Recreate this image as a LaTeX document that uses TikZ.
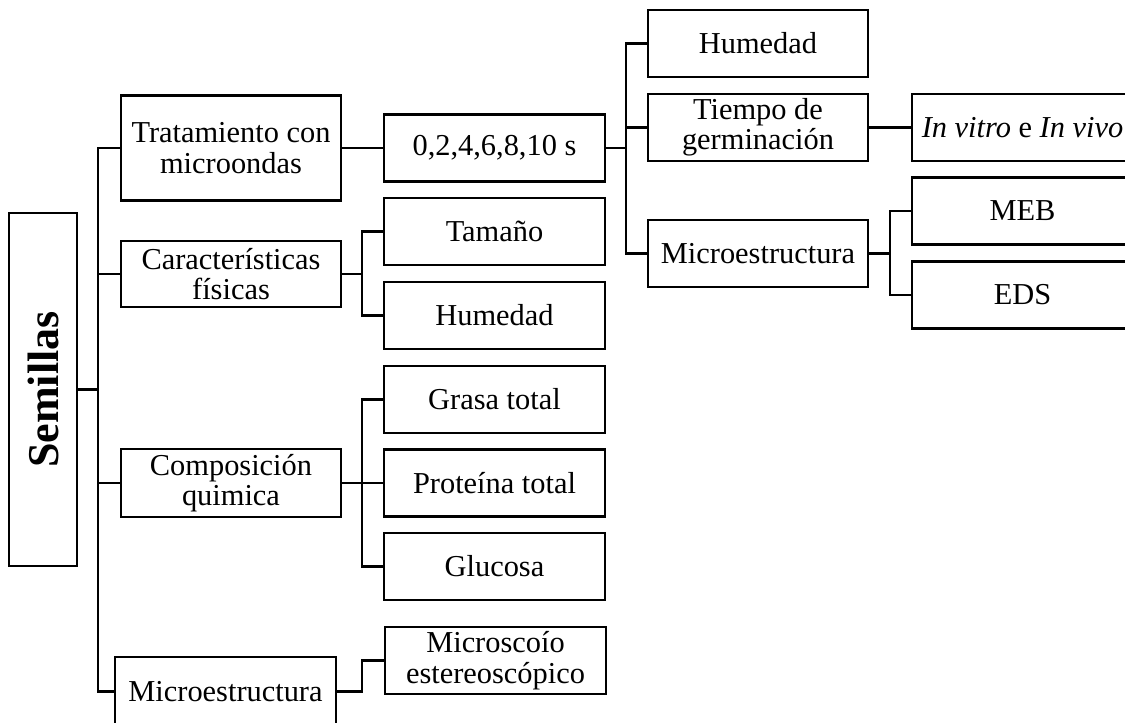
\documentclass[tikz,border=0pt]{standalone}
\usepackage{fontspec}
\setmainfont{Liberation Serif}
\usepackage{tikz}
\usetikzlibrary{positioning}
\usetikzlibrary{calc}

\tikzset{
  caja/.style={draw=black, line width=1.2pt, align=center, inner sep=0pt,
               minimum width=110.5pt, minimum height=33.5pt,
               font=\fontsize{15.2}{15.2}\selectfont},
  linea/.style={draw=black, line width=1.2pt},
}

\begin{document}
\begin{tikzpicture}[x=0.5pt, y=-0.5pt]
	\clip (0,0) rectangle (1125,723);

	\begin{scope}[every node/.style={caja}]
	    % raiz
	    \node[minimum width=34pt, minimum height=176.5pt] (sem) at (43,389.5)
	        {\rotatebox{90}{\fontsize{22}{22}\selectfont\bfseries Semillas}};
	    % primer nivel
	    \node[minimum width=110pt, minimum height=52.5pt] (trat) at (231,148) {Tratamiento con\\microondas};
	    \node[minimum width=110pt, minimum height=33pt] (carac) at (231,274) {Características\\físicas};
	    \node[minimum width=110pt, minimum height=34pt] (comp) at (231,483) {Composición\\quimica};
	    \node[minimum height=34.5pt] (micro) at (225.5,691.5) {Microestructura};
	    % segundo nivel
	    \node (tiempos) at (494.5,148) {0,2,4,6,8,10 s};
	    \node (tam) at (494.5,231.5) {Tamaño};
	    \node (hum) at (494.5,315.5) {Humedad};
	    \node (grasa) at (494.5,399.5) {Grasa total};
	    \node (prot) at (494.5,483) {Proteína total};
	    \node (gluc) at (494.5,566.5) {Glucosa};
	    \node (estereo) at (495.5,660.5) {Microscoío\\estereoscópico};
	    % tercer nivel
	    \node[minimum width=110pt] (humtres) at (758,43.5) {Humedad};
	    \node[minimum width=110pt] (germ) at (758,127.5) {Tiempo de\\germinación};
	    \node[minimum width=110pt] (microtres) at (758,253.5) {Microestructura};
	    % cuarto nivel
	    \node (invitro) at (1022.5,127.5) {\textit{In vitro} e \textit{In vivo}};
	    \node (meb) at (1022.5,211) {MEB};
	    \node (eds) at (1022.5,295) {EDS};
	\end{scope}

	\coordinate (b0) at (98,0);
	\coordinate (b1) at (362,0);
	\coordinate (b2) at (626,0);
	\coordinate (b3) at (890,0);

	\draw[linea] (sem.east) -- (sem.east -| b0);
	\draw[linea] (trat.west) -| (b0 |- micro.west) -- (micro.west);
	\draw[linea] (carac.west) -- (carac.west -| b0);
	\draw[linea] (comp.west) -- (comp.west -| b0);

	\draw[linea] (trat.east) -- (tiempos.west);
	\draw[linea] (carac.east) -- (carac.east -| b1);
	\draw[linea] (tam.west) -| (b1 |- hum.west) -- (hum.west);
	\draw[linea] (comp.east) -- (prot.west);
	\draw[linea] (grasa.west) -| (b1 |- gluc.west) -- (gluc.west);
	\draw[linea] (micro.east) -| (b1 |- estereo.west) -- (estereo.west);

	\draw[linea] (tiempos.east) -- (tiempos.east -| b2);
	\draw[linea] (humtres.west) -| (b2 |- microtres.west) -- (microtres.west);
	\draw[linea] (germ.west) -- (germ.west -| b2);

	\draw[linea] (germ.east) -- (invitro.west);
	\draw[linea] (microtres.east) -- (microtres.east -| b3);
	\draw[linea] (meb.west) -| (b3 |- eds.west) -- (eds.west);
\end{tikzpicture}
\end{document}
